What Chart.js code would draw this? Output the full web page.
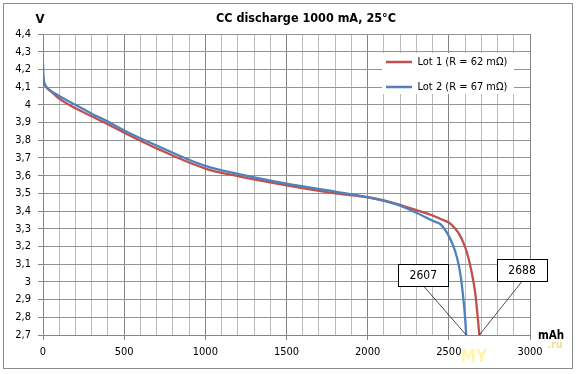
<!DOCTYPE html>
<html>
<head>
<meta charset="utf-8">
<script src="https://cdn.jsdelivr.net/npm/chart.js@4.4.0/dist/chart.umd.min.js"></script>
<style>
  html, body { margin: 0; padding: 0; background: #fff; }
</style>
</head>
<body>
<canvas id="myChart" width="576" height="374"></canvas>
<script>
// discharge curves, capacity in mAh and voltage in V
const lot1Mah = [0, 5, 20, 50, 100, 200, 300, 400, 500, 700, 1000, 1200, 1500, 1800, 2000, 2100, 2200, 2300, 2400, 2450, 2500, 2540, 2570, 2590, 2610, 2630, 2650, 2665, 2676, 2688];
const lot1V   = [4.16, 4.13, 4.10, 4.075, 4.035, 3.98, 3.935, 3.89, 3.842, 3.754, 3.64, 3.597, 3.545, 3.50, 3.478, 3.46, 3.435, 3.405, 3.375, 3.355, 3.335, 3.30, 3.26, 3.22, 3.17, 3.10, 3.01, 2.92, 2.82, 2.70];
const lot2Mah = [0, 3, 15, 40, 100, 200, 300, 400, 500, 700, 1000, 1200, 1500, 1800, 2000, 2200, 2300, 2400, 2450, 2490, 2520, 2540, 2560, 2575, 2590, 2600, 2607];
const lot2V   = [4.235, 4.16, 4.11, 4.085, 4.05, 4.0, 3.95, 3.905, 3.855, 3.77, 3.655, 3.61, 3.555, 3.51, 3.478, 3.43, 3.39, 3.345, 3.325, 3.275, 3.22, 3.17, 3.10, 3.02, 2.90, 2.80, 2.70];

const seriesNames = ["Lot 1 (R = 62 mΩ)", "Lot 2 (R = 67 mΩ)"];
const seriesColors = ["#c0504d", "#4f81bd"];

// end-of-discharge callouts: value, and where the label box sits (mAh, V)
const calloutValues = [2607, 2688];
const calloutBoxAt = [[2343, 3.04], [2951, 3.065]];

const xLabelValues = [0, 500, 1000, 1500, 2000, 2500, 3000];
const yLabels = ["2,7", "2,8", "2,9", "3", "3,1", "3,2", "3,3", "3,4", "3,5", "3,6", "3,7", "3,8", "3,9", "4", "4,1", "4,2", "4,3", "4,4"];

const chartTitle = "CC discharge 1000 mA, 25°C";
const FONT = '"DejaVu Sans Condensed", "DejaVu Sans", sans-serif';

function toPoints(xs, ys) {
  return xs.map((x, i) => ({ x: x, y: ys[i] }));
}

const decor = {
  id: "decor",
  beforeDraw(chart) {
    const c = chart.ctx;
    c.save();
    c.fillStyle = "#fff";
    c.fillRect(0, 0, chart.width, chart.height);
    c.restore();
  },
  afterLayout(chart) {
    const lg = chart.legend;
    const a = chart.chartArea;
    lg.left = a.right - 158;
    lg.top = a.top + 8.5;
    lg.right = lg.left + lg.width;
    lg.bottom = lg.top + 80;
    if (!lg._bgWrapped) {
      const orig = lg.draw.bind(lg);
      lg.draw = function() {
        const c = chart.ctx;
        c.save();
        c.fillStyle = "#fff";
        c.fillRect(lg.left + 10, lg.top + 10.5, 132, 41);
        c.restore();
        orig();
      };
      lg._bgWrapped = true;
    }
  },
  afterDraw(chart) {
    const c = chart.ctx;
    const xs = chart.scales.x, ys = chart.scales.y;
    c.save();
    // outer frame
    c.strokeStyle = "#8c8c8c";
    c.lineWidth = 1;
    c.strokeRect(3.5, 3.5, 569, 365);

    c.fillStyle = "#000";
    c.textAlign = "center";
    c.textBaseline = "middle";
    c.font = "bold 12.5px " + FONT;
    c.fillText(chartTitle, 306, 19);
    c.font = "bold 13px " + FONT;
    c.fillText("V", 40, 20);
    c.font = "bold 11.5px " + FONT;
    c.fillText("mAh", 551, 336);

    // callouts
    calloutValues.forEach((v, i) => {
      const bx = xs.getPixelForValue(calloutBoxAt[i][0]);
      const by = ys.getPixelForValue(calloutBoxAt[i][1]);
      const w = 50, h = 22;
      const px = xs.getPixelForValue(v);
      const py = ys.getPixelForValue(ys.min);
      c.strokeStyle = "#222";
      c.lineWidth = 0.8;
      c.beginPath();
      c.moveTo(bx, by + h / 2);
      c.lineTo(px, py);
      c.stroke();
      c.fillStyle = "#fff";
      c.fillRect(bx - w / 2, by - h / 2, w, h);
      c.strokeStyle = "#000";
      c.lineWidth = 1;
      c.strokeRect(Math.round(bx - w / 2) + 0.5, Math.round(by - h / 2) + 0.5, w, h);
      c.fillStyle = "#000";
      c.font = "12px " + FONT;
      c.fillText(String(v), bx, by + 1);
    });

    // site watermark
    c.font = "bold 17px " + FONT;
    c.fillStyle = "rgba(255, 236, 110, 0.55)";
    c.fillText("MY", 474, 358);
    c.font = "bold 11px " + FONT;
    c.fillStyle = "rgba(240, 200, 60, 0.6)";
    c.fillText(".ru", 555, 345);
    c.restore();
  }
};

Chart.defaults.font.family = FONT;
Chart.defaults.font.size = 11;
Chart.defaults.color = "#000";

const ctx = document.getElementById("myChart").getContext("2d");

const myChart = new Chart(ctx, {
  type: "line",
  data: {
    datasets: [
      {
        label: seriesNames[0],
        data: toPoints(lot1Mah, lot1V),
        borderColor: seriesColors[0],
        backgroundColor: seriesColors[0],
        borderWidth: 2.3,
        pointRadius: 0,
        cubicInterpolationMode: "monotone",
        order: 1,
      },
      {
        label: seriesNames[1],
        data: toPoints(lot2Mah, lot2V),
        borderColor: seriesColors[1],
        backgroundColor: seriesColors[1],
        borderWidth: 2.3,
        pointRadius: 0,
        cubicInterpolationMode: "monotone",
        order: 0,
      },
    ],
  },
  options: {
    responsive: false,
    animation: false,
    layout: { padding: { top: 34, right: 46, bottom: 0, left: 0 } },
    plugins: {
      title: { display: false },
      tooltip: { enabled: false },
      legend: {
        position: "chartArea",
        align: "start",
        labels: {
          usePointStyle: true,
          pointStyle: "line",
          pointStyleWidth: 26,
          padding: 14,
          color: "#000",
          font: { size: 11 },
          sort: (a, b) => a.datasetIndex - b.datasetIndex,
        },
      },
    },
    scales: {
      x: {
        type: "linear",
        min: 0,
        max: 3000,
        afterFit: (s) => { s.height = 39; },
        ticks: {
          stepSize: 100,
          autoSkip: false,
          maxRotation: 0,
          padding: 6,
          callback: (v) => (xLabelValues.includes(v) ? String(v) : ""),
        },
        grid: {
          color: (c) => (c.tick && c.tick.value % 500 === 0 ? "#858585" : "#bababa"),
          tickColor: (c) => (c.tick && c.tick.value % 500 === 0 ? "#858585" : "rgba(0,0,0,0)"),
          tickLength: 5,
        },
        border: { color: "#858585" },
      },
      y: {
        min: 2.7,
        max: 4.4,
        afterFit: (s) => { s.width = 43; },
        ticks: {
          stepSize: 0.1,
          autoSkip: false,
          padding: 7,
          callback: (v) => yLabels[Math.round(v * 10) - 27],
        },
        grid: {
          color: "#939393",
          tickColor: "#858585",
          tickLength: 5,
        },
        border: { color: "#858585" },
      },
    },
  },
  plugins: [decor],
});
</script>
</body>
</html>
